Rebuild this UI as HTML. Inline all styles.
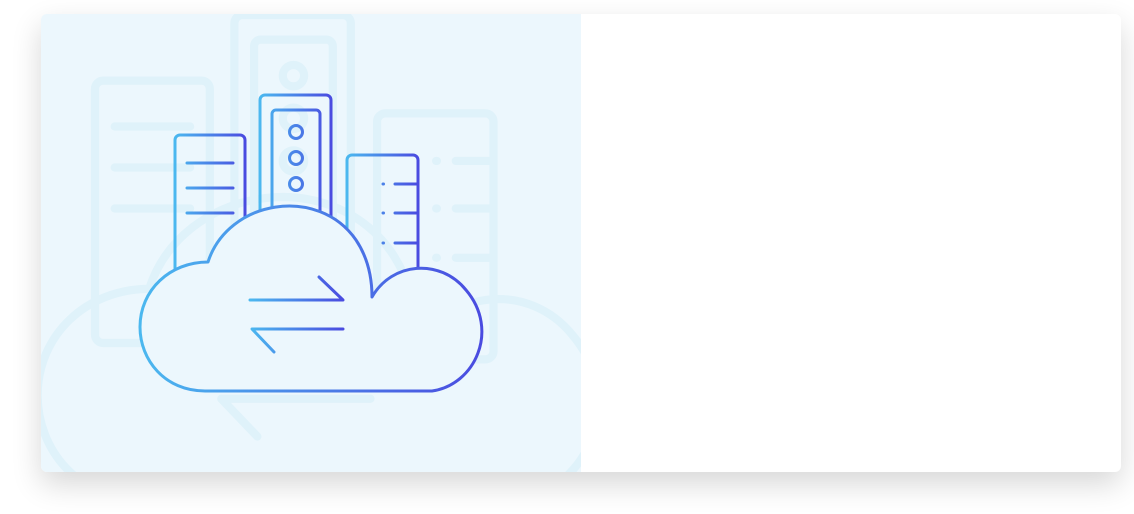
<!DOCTYPE html>
<html><head><meta charset="utf-8"><style>
html,body{margin:0;padding:0;background:#fff;width:1134px;height:514px;overflow:hidden}
.card{position:absolute;left:41px;top:14px;width:1080px;height:458px;background:#fff;border-radius:6px;box-shadow:0 12px 30px rgba(0,0,0,.16);overflow:hidden}
.panel{position:absolute;left:0;top:0;width:540px;height:458px;background:#ecf7fd}
svg{position:absolute;left:0;top:0}
</style></head><body>
<div class="card"><div class="panel">
<svg width="540" height="458" viewBox="41 14 540 458">
<defs>
<linearGradient id="gc" gradientUnits="userSpaceOnUse" x1="140" y1="0" x2="482" y2="0"><stop offset="0" stop-color="#4bb8ef"/><stop offset="1" stop-color="#4a4be0"/></linearGradient>
<linearGradient id="g1" gradientUnits="userSpaceOnUse" x1="175" y1="0" x2="245" y2="0"><stop offset="0" stop-color="#4bb8ef"/><stop offset="1" stop-color="#4a4be0"/></linearGradient>
<linearGradient id="g2" gradientUnits="userSpaceOnUse" x1="260" y1="0" x2="331" y2="0"><stop offset="0" stop-color="#4bb8ef"/><stop offset="1" stop-color="#4a4be0"/></linearGradient>
<linearGradient id="g3" gradientUnits="userSpaceOnUse" x1="347" y1="0" x2="418" y2="0"><stop offset="0" stop-color="#4bb8ef"/><stop offset="1" stop-color="#4a4be0"/></linearGradient>
<linearGradient id="ga" gradientUnits="userSpaceOnUse" x1="250" y1="0" x2="343" y2="0"><stop offset="0" stop-color="#4bb8ef"/><stop offset="1" stop-color="#4a4be0"/></linearGradient>
<g id="art" fill="none" stroke-linecap="round" stroke-linejoin="round">
 <g class="srv1"><rect x="175" y="135" width="70" height="160" rx="5"/>
  <line x1="187" y1="163" x2="233" y2="163"/><line x1="187" y1="188" x2="233" y2="188"/><line x1="187" y1="213" x2="233" y2="213"/></g>
 <g class="srv2"><rect x="260" y="95" width="71" height="180" rx="5"/><rect x="272" y="110" width="48" height="160" rx="4"/>
  <circle cx="296" cy="132" r="6.5"/><circle cx="296" cy="158" r="6.5"/><circle cx="296" cy="184" r="6.5"/></g>
 <g class="srv3"><rect x="347" y="155" width="71" height="150" rx="5"/>
  <line x1="383" y1="184" x2="383.5" y2="184"/><line x1="395" y1="184" x2="418" y2="184"/>
  <line x1="383" y1="213" x2="383.5" y2="213"/><line x1="395" y1="213" x2="418" y2="213"/>
  <line x1="383" y1="243" x2="383.5" y2="243"/><line x1="395" y1="243" x2="418" y2="243"/></g>
 <path class="cl" d="M208 262 C228 200 318 185 356 240 C368 258 372 278 372 297 C392 262 440 258 466 290 C500 330 475 385 432 391 L205 391 C165 391 140 360 140 327 C140 290 170 262 208 262 Z"/>
 <g class="ar"><path d="M250 300 L343 300 L319 277"/><path d="M343 329 L252 329 L274 352"/></g>
</g>
</defs>
<g transform="translate(300 220) scale(1.64) translate(-300 -220)" style="stroke:#dff2fa;stroke-width:5">
 <use href="#art" fill="none"/>
</g>
<g stroke-width="3" fill="none" stroke-linecap="round" stroke-linejoin="round">
 <g stroke="url(#g1)"><rect x="175" y="135" width="70" height="160" rx="5"/>
  <line x1="187" y1="163" x2="233" y2="163"/><line x1="187" y1="188" x2="233" y2="188"/><line x1="187" y1="213" x2="233" y2="213"/></g>
 <g stroke="url(#g2)"><rect x="260" y="95" width="71" height="180" rx="5"/><rect x="272" y="110" width="48" height="160" rx="4"/>
  <circle cx="296" cy="132" r="6.5"/><circle cx="296" cy="158" r="6.5"/><circle cx="296" cy="184" r="6.5"/></g>
 <g stroke="url(#g3)"><rect x="347" y="155" width="71" height="150" rx="5"/>
  <line x1="383" y1="184" x2="383.5" y2="184"/><line x1="395" y1="184" x2="418" y2="184"/>
  <line x1="383" y1="213" x2="383.5" y2="213"/><line x1="395" y1="213" x2="418" y2="213"/>
  <line x1="383" y1="243" x2="383.5" y2="243"/><line x1="395" y1="243" x2="418" y2="243"/></g>
 <path fill="#ecf7fd" stroke="url(#gc)" d="M208 262 C228 200 318 185 356 240 C368 258 372 278 372 297 C392 262 440 258 466 290 C500 330 475 385 432 391 L205 391 C165 391 140 360 140 327 C140 290 170 262 208 262 Z"/>
 <g stroke="url(#ga)"><path d="M250 300 L343 300 L319 277"/><path d="M343 329 L252 329 L274 352"/></g>
</g>
</svg>
</div></div>
</body></html>
